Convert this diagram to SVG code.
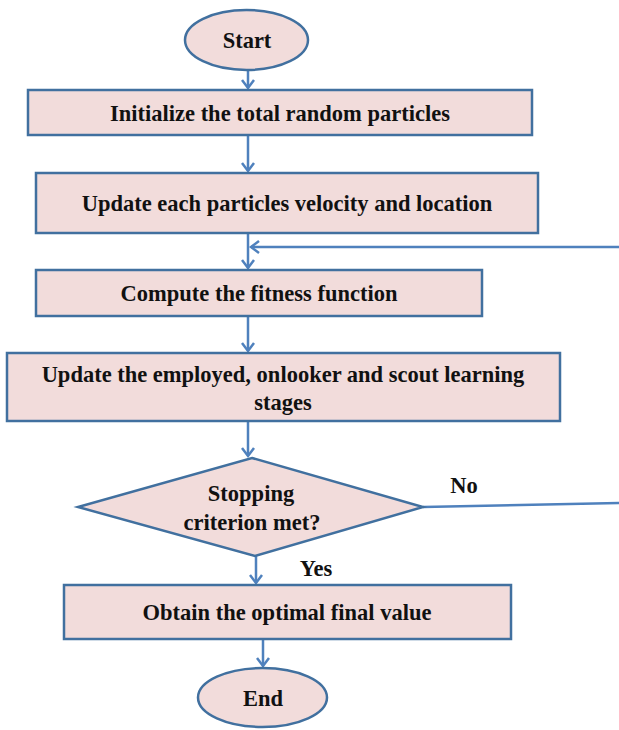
<svg xmlns="http://www.w3.org/2000/svg" width="619" height="730" viewBox="0 0 619 730">
<style>
.n{fill:#f2dcdb;stroke:#41709f;stroke-width:2.5}
.c{fill:none;stroke:#4f81bd;stroke-width:2.5}
.t{font-family:"Liberation Serif","Times New Roman",serif;font-weight:bold;font-size:22.5px;fill:#111;text-anchor:middle}
</style>
<defs>
<marker id="ah" markerUnits="userSpaceOnUse" markerWidth="20" markerHeight="20" viewBox="-10 -10 20 20" refX="0" refY="0" orient="auto">
<path d="M-8,-6 L0,0 L-8,6" fill="none" stroke="#4f81bd" stroke-width="2.5" stroke-linejoin="miter"/>
</marker>
</defs>
<rect width="619" height="730" fill="#fff"/>
<g id="connectors">
<line class="c" x1="248" y1="70" x2="248" y2="88" marker-end="url(#ah)"/>
<line class="c" x1="248" y1="135" x2="248" y2="171" marker-end="url(#ah)"/>
<line class="c" x1="248" y1="233" x2="248" y2="268" marker-end="url(#ah)"/>
<line class="c" x1="619" y1="247" x2="251" y2="247" marker-end="url(#ah)"/>
<line class="c" x1="248" y1="316" x2="248" y2="351" marker-end="url(#ah)"/>
<line class="c" x1="248" y1="421" x2="248" y2="456" marker-end="url(#ah)"/>
<line class="c" x1="423" y1="507" x2="619" y2="503"/>
<line class="c" x1="256" y1="556" x2="256" y2="583" marker-end="url(#ah)"/>
<line class="c" x1="263" y1="639" x2="263" y2="666" marker-end="url(#ah)"/>
<text class="t" x="464" y="493">No</text>
<text class="t" x="316" y="576">Yes</text>
</g>
<g id="start">
<ellipse class="n" cx="246.5" cy="40" rx="61.5" ry="30"/>
<text class="t" x="247" y="48">Start</text>
</g>
<g id="init">
<rect class="n" x="28" y="90" width="504" height="45"/>
<text class="t" x="280" y="121">Initialize the total random particles</text>
</g>
<g id="update-velocity">
<rect class="n" x="36" y="173" width="502" height="60"/>
<text class="t" x="287" y="211">Update each particles velocity and location</text>
</g>
<g id="fitness">
<rect class="n" x="36" y="270" width="446" height="46"/>
<text class="t" x="259" y="301">Compute the fitness function</text>
</g>
<g id="update-stages">
<rect class="n" x="7" y="353" width="553" height="68"/>
<text class="t" x="283" y="382">Update the employed, onlooker and scout learning</text>
<text class="t" x="283" y="410">stages</text>
</g>
<g id="decision">
<polygon class="n" points="252,458 423,507 255,556 78,507"/>
<text class="t" x="251" y="501">Stopping</text>
<text class="t" x="252" y="530">criterion met?</text>
</g>
<g id="obtain">
<rect class="n" x="64" y="585" width="447" height="54"/>
<text class="t" x="287" y="620">Obtain the optimal final value</text>
</g>
<g id="end">
<ellipse class="n" cx="262.5" cy="697.5" rx="64.5" ry="29.5"/>
<text class="t" x="263" y="706">End</text>
</g>
</svg>
